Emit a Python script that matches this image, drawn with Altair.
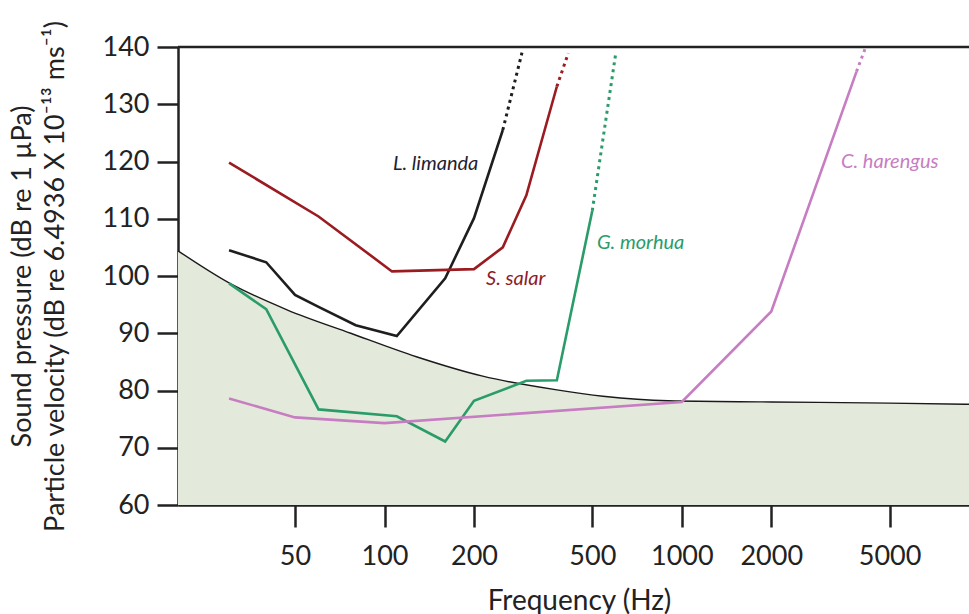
import altair as alt
import pandas as pd

# ---- data ----
# ambient / background curve (shaded below)
bg_f = [20.2, 30, 47, 77, 128, 214, 380, 543, 900, 2000, 5000, 9250]
bg_db = [104.4, 98.8, 94.1, 90.0, 85.9, 82.5, 80.1, 79.0, 78.2, 78.0, 77.8, 77.6]

species = ["L. limanda", "S. salar", "G. morhua", "C. harengus"]
line_colors = ["#1e1e1e", "#9a1b20", "#2a9c69", "#c77dc2"]
text_colors = ["#1c2233", "#8f1a28", "#2a9c69", "#c77dc2"]

limanda_f = [30, 40, 50, 60, 80, 110, 160, 200, 250]
limanda_db = [104.5, 102.4, 96.7, 94.6, 91.4, 89.5, 99.6, 110.1, 125.5]
limanda_ext_f = [250, 290]
limanda_ext_db = [125.5, 139.0]

salar_f = [30, 60, 106, 200, 250, 300, 380]
salar_db = [119.8, 110.4, 100.8, 101.2, 105.0, 114.1, 133.1]
salar_ext_f = [380, 415]
salar_ext_db = [133.1, 138.9]

morhua_f = [30, 40, 60, 110, 160, 200, 300, 380, 500]
morhua_db = [98.7, 94.2, 76.7, 75.5, 71.1, 78.2, 81.7, 81.8, 111.4]
morhua_ext_f = [500, 600]
morhua_ext_db = [111.4, 139.0]

harengus_f = [30, 50, 100, 1000, 2000, 3870]
harengus_db = [78.6, 75.3, 74.3, 78.0, 93.8, 135.7]
harengus_ext_f = [3870, 4130]
harengus_ext_db = [135.7, 139.6]

label_f = [106.8, 219.5, 518.6, 3432]
label_db = [118.5, 98.4, 104.7, 118.9]

x_ticks = [50, 100, 200, 500, 1000, 2000, 5000]
y_ticks = [60, 70, 80, 90, 100, 110, 120, 130, 140]
X_DOMAIN = [20.2, 9250]
Y_DOMAIN = [60, 140]

# ---- tables ----
bg = pd.DataFrame({"f": bg_f, "db": bg_db})

solid_sets = [(limanda_f, limanda_db), (salar_f, salar_db), (morhua_f, morhua_db), (harengus_f, harengus_db)]
ext_sets = [(limanda_ext_f, limanda_ext_db), (salar_ext_f, salar_ext_db),
            (morhua_ext_f, morhua_ext_db), (harengus_ext_f, harengus_ext_db)]

rows = []
for name, (fs, ds) in zip(species, solid_sets):
    for i, (f, d) in enumerate(zip(fs, ds)):
        rows.append({"species": name, "f": f, "db": d, "i": i})
solid = pd.DataFrame(rows)

rows = []
for name, (fs, ds) in zip(species, ext_sets):
    for i, (f, d) in enumerate(zip(fs, ds)):
        rows.append({"species": name, "f": f, "db": d, "i": i})
ext = pd.DataFrame(rows)

labels = pd.DataFrame({"species": species, "f": label_f, "db": label_db, "tc": text_colors})
top = pd.DataFrame({"db": [Y_DOMAIN[1]]})

FONT = "Lato"
AX = "#222222"

x_enc = alt.X(
    "f:Q",
    scale=alt.Scale(type="log", domain=X_DOMAIN, nice=False),
    axis=alt.Axis(
        values=x_ticks, format="d", title="Frequency (Hz)", grid=False,
        domain=True, domainColor=AX, domainWidth=2.5,
        ticks=True, tickSize=22, tickWidth=2.5, tickColor=AX,
        labelFont=FONT, labelFontSize=27, labelColor=AX, labelPadding=16,
        labelFlush=False, labelOverlap=False,
        titleFont=FONT, titleFontSize=28, titleFontWeight="normal", titleColor=AX,
        titleX=401, titleY=104, titleBaseline="alphabetic", titleAlign="center",
    ),
)
y_enc = alt.Y(
    "db:Q",
    scale=alt.Scale(domain=Y_DOMAIN, nice=False, zero=False),
    axis=alt.Axis(
        values=y_ticks, grid=False, title=["Sound pressure (dB re 1 µPa)",
                                           "Particle velocity (dB re 6.4936 X 10⁻¹³ ms⁻¹)"],
        domain=True, domainColor=AX, domainWidth=2.5,
        ticks=True, tickSize=21, tickWidth=2.5, tickColor=AX,
        labelFont=FONT, labelFontSize=27, labelColor=AX, labelPadding=8,
        labelFlush=False,
        titleFont=FONT, titleFontSize=27, titleFontWeight="normal", titleColor=AX,
        titleAngle=-90, titleX=-142, titleY=229, titleAlign="center",
        titleBaseline="bottom", titleLineHeight=33,
    ),
)

area = alt.Chart(bg).mark_area(color="#e4eadb", interpolate="monotone").encode(
    x=x_enc, y=y_enc, y2=alt.datum(Y_DOMAIN[0])
)
bg_line = alt.Chart(bg).mark_line(color="#1a1a1a", strokeWidth=1.4, interpolate="monotone").encode(
    x=x_enc, y=y_enc
)
color_enc = alt.Color("species:N", scale=alt.Scale(domain=species, range=line_colors), legend=None)
lines = alt.Chart(solid).mark_line(strokeWidth=2.6).encode(
    x=x_enc, y=y_enc, color=color_enc, order="i:Q"
)
dotted = alt.Chart(ext).mark_line(strokeWidth=3, strokeDash=[3, 4]).encode(
    x=x_enc, y=y_enc, color=color_enc, order="i:Q"
)
texts = alt.Chart(labels).mark_text(
    align="left", baseline="alphabetic", font=FONT, fontStyle="italic", fontSize=20
).encode(x=x_enc, y=y_enc, text="species:N", color=alt.Color("tc:N", scale=None))
top_rule = alt.Chart(top).mark_rule(color=AX, strokeWidth=2.5).encode(y=y_enc)

chart = alt.layer(area, bg_line, lines, dotted, texts, top_rule).properties(
    width=791, height=458,
    padding={"left": 178, "top": 47, "right": 0, "bottom": 109},
    autosize=alt.AutoSizeParams(type="none"),
    background="white",
).configure_view(stroke=None)

chart.save("out.html", embed_options={"renderer": "svg", "actions": False})
